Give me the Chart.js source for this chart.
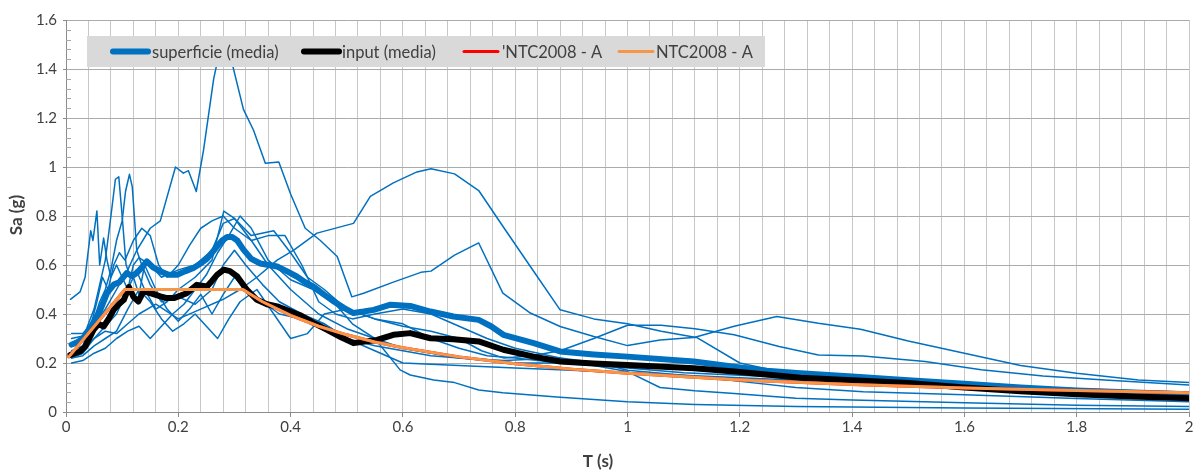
<!DOCTYPE html>
<html><head><meta charset="utf-8">
<script src="https://cdn.jsdelivr.net/npm/chart.js@4"></script>
<style>html,body{margin:0;padding:0;background:#fff}#wrap{width:1201px;height:472px}</style>
</head><body><div id="wrap"><canvas id="c" width="1201" height="472"></canvas></div>
<script>
// ---- data: [T (s), Sa (g)] ----
const rec1 = [[0.01,0.30],[0.03,0.31],[0.05,0.35],[0.07,0.42],[0.09,0.50],[0.11,0.58],[0.126,0.66],[0.15,0.75],[0.168,0.78],[0.195,1.0],[0.209,0.975],[0.218,0.985],[0.232,0.90],[0.245,1.07],[0.263,1.36],[0.278,1.52],[0.293,1.45],[0.316,1.235],[0.334,1.15],[0.355,1.015],[0.379,1.02],[0.40,0.89],[0.426,0.75],[0.453,0.70],[0.483,0.635],[0.509,0.47],[0.53,0.485],[0.583,0.53],[0.632,0.57],[0.65,0.575],[0.692,0.64],[0.735,0.69],[0.778,0.485],[0.827,0.404],[0.88,0.349],[0.94,0.308],[1.0,0.271],[1.058,0.294],[1.123,0.305],[1.2,0.2],[1.27,0.165],[1.4,0.14],[1.6,0.11],[1.8,0.09],[2.0,0.075]];
const rec2 = [[0.01,0.22],[0.03,0.24],[0.05,0.30],[0.07,0.33],[0.09,0.32],[0.11,0.36],[0.13,0.40],[0.16,0.44],[0.2,0.38],[0.24,0.42],[0.28,0.46],[0.31,0.50],[0.34,0.55],[0.376,0.62],[0.405,0.66],[0.447,0.73],[0.512,0.77],[0.542,0.88],[0.583,0.935],[0.625,0.98],[0.65,0.993],[0.692,0.972],[0.735,0.904],[0.778,0.758],[0.827,0.594],[0.88,0.417],[0.94,0.38],[1.0,0.36],[1.06,0.33],[1.12,0.305],[1.19,0.35],[1.266,0.39],[1.34,0.362],[1.415,0.338],[1.5,0.29],[1.6,0.24],[1.7,0.19],[1.8,0.158],[1.91,0.131],[2.0,0.12]];
const rec3 = [[0.008,0.46],[0.025,0.49],[0.034,0.55],[0.044,0.74],[0.048,0.70],[0.055,0.82],[0.06,0.60],[0.067,0.71],[0.073,0.62],[0.08,0.55],[0.09,0.60],[0.1,0.55],[0.11,0.50],[0.12,0.60],[0.13,0.63],[0.15,0.60],[0.17,0.55],[0.2,0.58],[0.23,0.60],[0.26,0.66],[0.28,0.77],[0.3,0.79],[0.33,0.70],[0.36,0.60],[0.4,0.50],[0.45,0.40],[0.5,0.34],[0.55,0.30],[0.6,0.26],[0.7,0.22],[0.8,0.20],[0.9,0.20],[1.0,0.19],[1.2,0.16],[1.4,0.13],[1.6,0.11],[1.8,0.095],[2.0,0.08]];
const rec4 = [[0.01,0.27],[0.03,0.30],[0.05,0.42],[0.06,0.52],[0.07,0.62],[0.08,0.80],[0.088,0.95],[0.094,0.96],[0.1,0.80],[0.107,0.60],[0.115,0.55],[0.125,0.58],[0.14,0.50],[0.16,0.42],[0.18,0.45],[0.2,0.50],[0.23,0.55],[0.26,0.62],[0.281,0.82],[0.3,0.79],[0.33,0.72],[0.37,0.74],[0.4,0.65],[0.43,0.55],[0.46,0.50],[0.5,0.42],[0.55,0.38],[0.6,0.35],[0.65,0.33],[0.7,0.30],[0.74,0.25],[0.78,0.22],[0.83,0.23],[0.88,0.25],[0.94,0.30],[1.0,0.354],[1.06,0.354],[1.12,0.34],[1.19,0.315],[1.27,0.267],[1.34,0.233],[1.42,0.229],[1.53,0.206],[1.63,0.172],[1.74,0.147],[1.85,0.131],[2.0,0.11]];
const rec5 = [[0.01,0.25],[0.03,0.27],[0.05,0.38],[0.06,0.45],[0.07,0.50],[0.08,0.58],[0.09,0.70],[0.1,0.78],[0.106,0.90],[0.113,0.97],[0.118,0.92],[0.126,0.66],[0.135,0.60],[0.15,0.52],[0.17,0.45],[0.2,0.47],[0.23,0.44],[0.26,0.50],[0.28,0.60],[0.3,0.66],[0.32,0.60],[0.35,0.52],[0.38,0.45],[0.42,0.40],[0.46,0.36],[0.5,0.30],[0.55,0.27],[0.6,0.25],[0.65,0.23],[0.7,0.22],[0.78,0.21],[0.88,0.22],[0.94,0.19],[1.0,0.165],[1.058,0.10],[1.12,0.087],[1.19,0.076],[1.3,0.056],[1.4,0.049],[1.6,0.038],[1.8,0.028],[2.0,0.022]];
const rec6 = [[0.01,0.20],[0.03,0.21],[0.05,0.24],[0.07,0.26],[0.09,0.30],[0.11,0.33],[0.13,0.35],[0.15,0.30],[0.17,0.35],[0.19,0.40],[0.21,0.44],[0.23,0.50],[0.25,0.56],[0.27,0.65],[0.29,0.72],[0.31,0.80],[0.33,0.75],[0.36,0.62],[0.4,0.54],[0.44,0.50],[0.48,0.44],[0.51,0.36],[0.55,0.30],[0.595,0.172],[0.613,0.151],[0.655,0.131],[0.692,0.12],[0.735,0.09],[0.778,0.079],[0.88,0.06],[1.0,0.042],[1.12,0.031],[1.3,0.022],[1.6,0.016],[2.0,0.011]];
const rec7 = [[0.01,0.32],[0.03,0.32],[0.045,0.36],[0.055,0.45],[0.065,0.55],[0.075,0.50],[0.085,0.60],[0.095,0.65],[0.105,0.62],[0.12,0.70],[0.135,0.75],[0.15,0.72],[0.165,0.60],[0.18,0.55],[0.2,0.60],[0.22,0.68],[0.24,0.75],[0.26,0.78],[0.28,0.80],[0.3,0.75],[0.33,0.70],[0.36,0.72],[0.39,0.72],[0.42,0.60],[0.45,0.45],[0.48,0.40],[0.51,0.38],[0.55,0.40],[0.6,0.42],[0.65,0.40],[0.7,0.35],[0.75,0.30],[0.8,0.26],[0.88,0.22],[0.95,0.20],[1.0,0.17],[1.1,0.15],[1.2,0.125],[1.3,0.10],[1.42,0.083],[1.6,0.07],[1.8,0.055],[2.0,0.042]];
const rec8 = [[0.01,0.22],[0.03,0.23],[0.05,0.27],[0.07,0.30],[0.09,0.33],[0.11,0.42],[0.13,0.50],[0.15,0.45],[0.17,0.38],[0.19,0.33],[0.21,0.36],[0.23,0.40],[0.25,0.35],[0.27,0.30],[0.29,0.38],[0.31,0.45],[0.34,0.50],[0.37,0.40],[0.4,0.30],[0.43,0.32],[0.46,0.40],[0.5,0.42],[0.55,0.38],[0.6,0.36],[0.65,0.30],[0.7,0.26],[0.75,0.23],[0.8,0.22],[0.88,0.20],[1.0,0.18],[1.1,0.16],[1.2,0.15],[1.3,0.14],[1.4,0.13],[1.6,0.11],[1.8,0.09],[2.0,0.07]];
const rec9 = [[0.01,0.24],[0.03,0.25],[0.05,0.30],[0.07,0.35],[0.09,0.40],[0.1,0.45],[0.11,0.50],[0.12,0.55],[0.13,0.48],[0.14,0.60],[0.16,0.50],[0.18,0.42],[0.2,0.37],[0.22,0.42],[0.24,0.48],[0.26,0.40],[0.28,0.48],[0.3,0.55],[0.32,0.50],[0.35,0.45],[0.38,0.40],[0.42,0.38],[0.46,0.36],[0.5,0.30],[0.55,0.25],[0.6,0.20],[0.7,0.19],[0.8,0.18],[0.9,0.17],[1.0,0.16],[1.2,0.14],[1.4,0.12],[1.6,0.10],[1.8,0.085],[2.0,0.07]];
const superficieMedia = [[0.01,0.275],[0.02,0.285],[0.03,0.30],[0.04,0.33],[0.05,0.37],[0.06,0.41],[0.073,0.485],[0.085,0.52],[0.095,0.53],[0.108,0.567],[0.118,0.555],[0.126,0.567],[0.135,0.59],[0.144,0.615],[0.155,0.59],[0.168,0.574],[0.183,0.56],[0.198,0.56],[0.213,0.575],[0.227,0.588],[0.239,0.605],[0.251,0.625],[0.26,0.65],[0.269,0.676],[0.278,0.70],[0.287,0.714],[0.296,0.714],[0.305,0.70],[0.316,0.663],[0.33,0.625],[0.346,0.606],[0.361,0.60],[0.376,0.594],[0.393,0.575],[0.411,0.553],[0.426,0.53],[0.441,0.512],[0.459,0.48],[0.477,0.451],[0.495,0.425],[0.512,0.404],[0.53,0.41],[0.548,0.417],[0.578,0.438],[0.613,0.433],[0.649,0.41],[0.69,0.39],[0.735,0.376],[0.757,0.35],[0.779,0.315],[0.833,0.281],[0.88,0.247],[0.94,0.235],[1.0,0.226],[1.118,0.206],[1.19,0.185],[1.248,0.168],[1.308,0.158],[1.4,0.145],[1.5,0.13],[1.6,0.115],[1.7,0.10],[1.8,0.088],[1.9,0.08],[2.0,0.072]];
const inputMedia = [[0.008,0.233],[0.025,0.247],[0.034,0.267],[0.049,0.335],[0.058,0.36],[0.067,0.349],[0.076,0.38],[0.085,0.417],[0.094,0.44],[0.103,0.458],[0.112,0.51],[0.12,0.47],[0.129,0.451],[0.138,0.492],[0.15,0.485],[0.168,0.472],[0.18,0.465],[0.192,0.465],[0.204,0.475],[0.215,0.485],[0.233,0.519],[0.251,0.512],[0.26,0.535],[0.269,0.56],[0.281,0.581],[0.292,0.575],[0.305,0.553],[0.322,0.499],[0.34,0.458],[0.358,0.44],[0.376,0.431],[0.417,0.395],[0.44,0.365],[0.465,0.335],[0.49,0.305],[0.512,0.281],[0.532,0.288],[0.554,0.294],[0.583,0.315],[0.613,0.322],[0.649,0.301],[0.69,0.297],[0.735,0.288],[0.779,0.254],[0.833,0.226],[0.88,0.206],[0.94,0.198],[1.0,0.192],[1.118,0.179],[1.19,0.165],[1.308,0.14],[1.4,0.13],[1.5,0.118],[1.6,0.10],[1.7,0.085],[1.8,0.072],[1.9,0.063],[2.0,0.056]];
const ntc2008A = [[0.005,0.225],[0.105,0.50],[0.315,0.50],[0.35,0.45],[0.4,0.394],[0.45,0.35],[0.5,0.315],[0.55,0.286],[0.6,0.2625],[0.7,0.225],[0.8,0.197],[0.9,0.175],[1.0,0.158],[1.2,0.131],[1.4,0.1125],[1.6,0.098],[1.8,0.0875],[2.0,0.079]];
const records = [rec1, rec2, rec3, rec4, rec5, rec6, rec7, rec8, rec9];
const xLabelTicks = [0, 0.2, 0.4, 0.6, 0.8, 1, 1.2, 1.4, 1.6, 1.8, 2];
const xTitle = 'T (s)';
const yTitle = 'Sa (g)';

const BLUE = '#0070C0', ORANGE = '#F79646', TEXT = '#404040';
const FONT = 'Lato';
const toXY = a => a.map(p => ({x: p[0], y: p[1]}));
const isMajorX = v => xLabelTicks.some(t => Math.abs(t - v) < 1e-6);

const datasets = [];
records.forEach((r, i) => datasets.push({label: 'rec' + (i + 1), data: toXY(r), borderColor: BLUE, borderWidth: 1.5, order: 10 + i}));
datasets.push({label: 'superficie (media)', data: toXY(superficieMedia), borderColor: BLUE, borderWidth: 6, order: 3});
datasets.push({label: 'input (media)', data: toXY(inputMedia), borderColor: '#000000', borderWidth: 6, order: 2});
datasets.push({label: "'NTC2008 - A", data: toXY(ntc2008A), borderColor: '#FF0000', borderWidth: 3, order: 1});
datasets.push({label: 'NTC2008 - A', data: toXY(ntc2008A), borderColor: ORANGE, borderWidth: 3, order: 0});
datasets.forEach(d => { d.pointRadius = 0; d.tension = 0; d.fill = false; d.borderJoinStyle = 'round'; d.borderCapStyle = 'round'; });

const decor = {
  id: 'decor',
  beforeDatasetsDraw(chart) {
    const {ctx, chartArea: a, scales: {y}} = chart;
    ctx.save();
    ctx.strokeStyle = '#A6A6A6'; ctx.lineWidth = 1;
    for (let i = 0; i <= 40; i++) {
      if (i % 5 === 0) continue;
      const py = Math.round(y.getPixelForValue(i * 0.04)) + 0.5;
      ctx.beginPath(); ctx.moveTo(a.left, py); ctx.lineTo(a.left + 5, py); ctx.stroke();
    }
    ctx.restore();
  },
  afterDatasetsDraw(chart) {
    const ctx = chart.ctx;
    ctx.save();
    ctx.fillStyle = '#D9D9D9';
    ctx.fillRect(87, 36, 678, 31);
    const items = [
      {i: 9, x0: 113, x1: 148, tx: 152},
      {i: 10, x0: 304, x1: 339, tx: 342},
      {i: 11, x0: 464, x1: 498, tx: 502},
      {i: 12, x0: 619, x1: 653, tx: 656}
    ];
    const yc = 51.5;
    ctx.font = '16.5px ' + FONT;
    ctx.textBaseline = 'middle';
    items.forEach(it => {
      const d = datasets[it.i];
      ctx.strokeStyle = d.borderColor;
      ctx.lineWidth = d.borderWidth;
      ctx.lineCap = 'round';
      ctx.beginPath(); ctx.moveTo(it.x0, yc); ctx.lineTo(it.x1, yc); ctx.stroke();
      ctx.fillStyle = TEXT;
      ctx.fillText(d.label, it.tx, yc + 1);
    });
    ctx.restore();
  },
  afterDraw(chart) {
    const ctx = chart.ctx;
    ctx.save();
    ctx.fillStyle = TEXT;
    ctx.font = 'bold 17px ' + FONT;
    ctx.textAlign = 'center';
    ctx.textBaseline = 'middle';
    ctx.fillText(xTitle, 598, 462);
    ctx.translate(17, 215);
    ctx.rotate(-Math.PI / 2);
    ctx.fillText(yTitle, 0, 0);
    ctx.restore();
  }
};

new Chart(document.getElementById('c'), {
  type: 'line',
  data: {datasets},
  plugins: [decor],
  options: {
    responsive: false,
    animation: false,
    events: [],
    layout: {padding: {left: 0, right: 12, top: 20, bottom: 0}},
    plugins: {legend: {display: false}, tooltip: {enabled: false}},
    scales: {
      x: {
        type: 'linear', min: 0, max: 2,
        afterFit(s) { s.height = 60; },
        border: {color: '#8C8C8C', width: 1},
        grid: {
          color: ctx => (ctx.tick && ctx.tick.value === 0) ? 'rgba(0,0,0,0)' : '#C8C8C8',
          tickColor: ctx => (ctx.tick && isMajorX(ctx.tick.value)) ? '#8C8C8C' : 'rgba(0,0,0,0)',
          tickLength: 5, lineWidth: 1
        },
        ticks: {
          stepSize: 0.04, autoSkip: false, maxRotation: 0, padding: 1,
          color: TEXT, font: {family: FONT, size: 15},
          callback: v => isMajorX(v) ? String(+v.toFixed(2)) : ''
        },
        title: {display: false}
      },
      y: {
        type: 'linear', min: 0, max: 1.6,
        afterFit(s) { s.width = 66; },
        border: {color: '#8C8C8C', width: 1},
        grid: {color: ctx => (ctx.tick && ctx.tick.value === 0) ? 'rgba(0,0,0,0)' : '#ABABAB', tickColor: '#8C8C8C', tickLength: 3},
        ticks: {
          stepSize: 0.2, padding: 6, color: TEXT, font: {family: FONT, size: 15},
          callback: v => String(+v.toFixed(2))
        },
        title: {display: false}
      }
    }
  }
});
</script></body></html>
